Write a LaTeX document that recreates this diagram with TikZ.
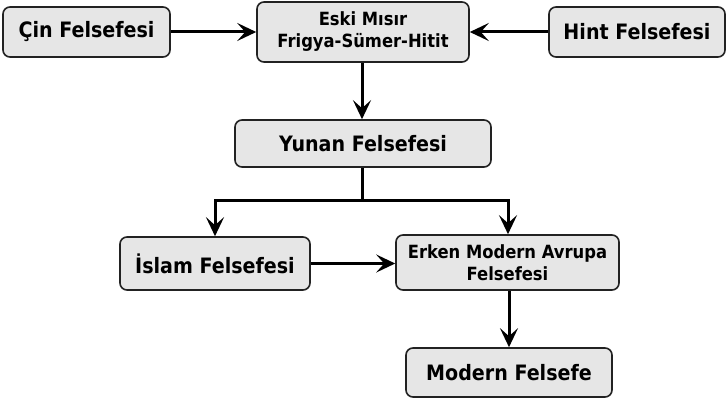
\documentclass[tikz,border=0pt]{standalone}
\usepackage{fontspec}
\setmainfont{DejaVu Sans}[FakeStretch=0.9]
\usetikzlibrary{arrows.meta}
\definecolor{boxfill}{HTML}{E6E6E6}
\definecolor{boxline}{HTML}{222222}
\begin{document}
\begin{tikzpicture}[x=1pt,y=-1pt,
  box/.style={draw=boxline,line width=1.6pt,fill=boxfill,rounded corners=7pt,
    inner sep=0pt,align=center,font=\bfseries\fontsize{21.2}{24}\selectfont},
  twoline/.style={font=\bfseries\fontsize{18.2}{22}\selectfont},
  conn/.style={line width=3pt,-{Stealth[length=19pt,width=18pt,inset=8pt]}}]
\useasboundingbox (0,0) rectangle (727,401);
\node[box,minimum width=167pt,minimum height=50pt] (cin) at (86.5,32) {Çin Felsefesi};
\node[box,twoline,minimum width=212pt,minimum height=60pt] (eski) at (363,32) {Eski Mısır\\Frigya-Sümer-Hitit};
\node[box,minimum width=176pt,minimum height=50pt] (hint) at (637,32) {Hint Felsefesi};
\node[box,minimum width=256pt,minimum height=47pt] (yunan) at (363,143.5) {Yunan Felsefesi};
\node[box,minimum width=190pt,minimum height=53pt] (islam) at (215,263.5) {İslam Felsefesi};
\node[box,twoline,minimum width=223pt,minimum height=55pt] (erken) at (507.5,262.5) {Erken Modern Avrupa\\Felsefesi};
\node[box,minimum width=206pt,minimum height=49pt] (modern) at (509,372.5) {Modern Felsefe};
\coordinate (split) at (362,200);
\draw[conn] (cin.east) -- (cin.east -| eski.west);
\draw[conn] (hint.west) -- (hint.west -| eski.east);
\draw[conn] (eski.south -| 362,0) -- (yunan.north -| 362,0);
\draw[line width=3pt] (yunan.south -| 362,0) -- (split);
\draw[conn,line join=miter] (split) -| (islam.north);
\draw[conn,line join=miter] (split) -| (erken.north -| 508,0);
\draw[conn] (islam.east) -- (islam.east -| erken.west);
\draw[conn] (erken.south -| 509,0) -- (modern.north -| 509,0);
\end{tikzpicture}
\end{document}
